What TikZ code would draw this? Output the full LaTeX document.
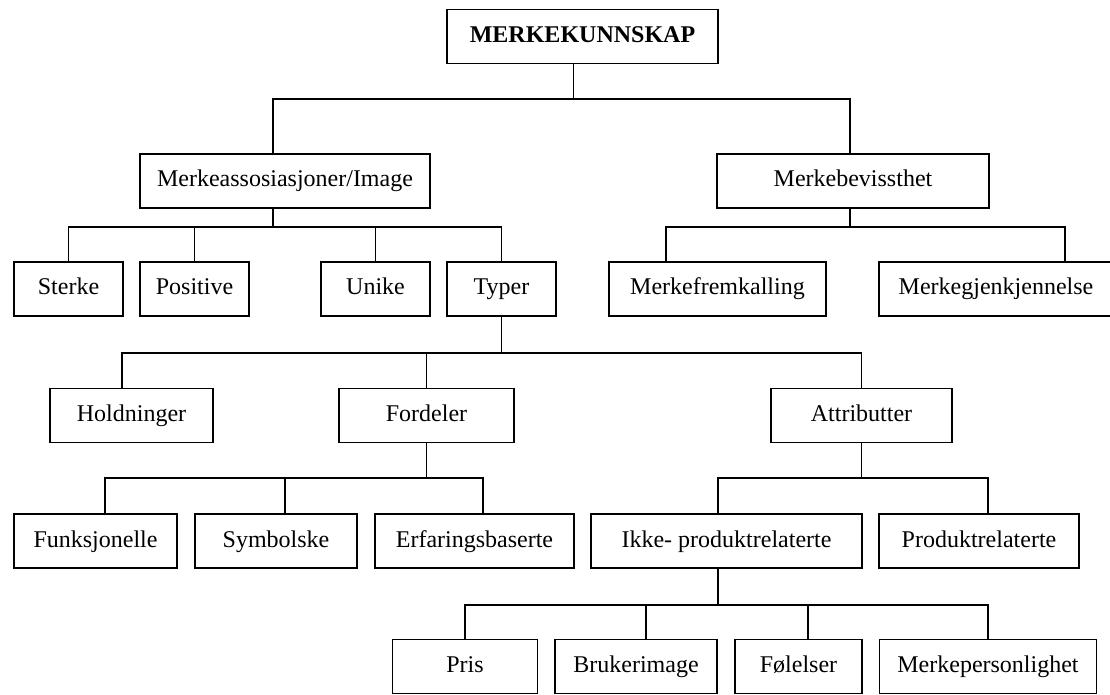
\documentclass[tikz,border=0pt]{standalone}
\usepackage{fontspec}
\setmainfont{Liberation Serif}

\tikzset{
	box/.style={draw, line width=0.9pt, minimum height=27pt, inner sep=0pt, text height=8.5pt, text depth=2.5pt, font=\fontsize{12}{14}\selectfont},
	link/.style={line width=0.9pt}
}

\begin{document}
\begin{tikzpicture}[x=0.5pt,y=-0.5pt]
		\useasboundingbox (0,0) rectangle (1110,695);

		\node[box, minimum width=135.5pt, font=\fontsize{12}{14}\selectfont\bfseries] (top) at (582.5,36.5) {MERKEKUNNSKAP};

		\node[box, minimum width=145pt] (ma) at (285,181) {Merkeassosiasjoner/Image};
		\node[box, minimum width=136pt] (mb) at (853,181) {Merkebevissthet};

		\node[box, minimum width=54.5pt] (sterke) at (68.5,289) {Sterke};
		\node[box, minimum width=54.5pt] (positive) at (194.5,289) {Positive};
		\node[box, minimum width=54.5pt] (unike) at (375.5,289) {Unike};
		\node[box, minimum width=54.5pt] (typer) at (501.5,289) {Typer};
		\node[box, minimum width=108.5pt] (mf) at (717.5,289) {Merkefremkalling};
		\node[box, minimum width=117pt] (mg) at (996,289) {Merkegjenkjennelse};

		\node[box, minimum width=81.5pt] (hold) at (131.5,415.5) {Holdninger};
		\node[box, minimum width=87.5pt] (ford) at (426.5,415.5) {Fordeler};
		\node[box, minimum width=90.5pt] (attr) at (861.5,415.5) {Attributter};

		\node[box, minimum width=81.5pt] (funk) at (95.5,541) {Funksjonelle};
		\node[box, minimum width=81pt] (symb) at (276,541) {Symbolske};
		\node[box, minimum width=99.5pt] (erf) at (474.5,541) {Erfaringsbaserte};
		\node[box, minimum width=135.5pt] (ikke) at (726.5,541) {Ikke- produktrelaterte};
		\node[box, minimum width=100pt] (prod) at (979,541) {Produktrelaterte};

		\node[box, minimum width=72.5pt] (pris) at (465,666.5) {Pris};
		\node[box, minimum width=81pt] (bruk) at (636,666.5) {Brukerimage};
		\node[box, minimum width=63.5pt] (fol) at (798.5,666.5) {Følelser};
		\node[box, minimum width=108.5pt] (mp) at (988,666.5) {Merkepersonlighet};

		% tree lines
		\draw[link] ([xshift=-4.5pt]top.south) -- ++(0,35) -| ([xshift=-6pt]ma.north);
		\draw[link] ([xshift=-4.5pt]top.south) -- ++(0,35) -| ([xshift=-1.5pt]mb.north);

		\draw[link] ([xshift=-6pt]ma.south) -- ++(0,18) -| (sterke.north);
		\draw[link] ([xshift=-6pt]ma.south) -- ++(0,18) -| (positive.north);
		\draw[link] ([xshift=-6pt]ma.south) -- ++(0,18) -| (unike.north);
		\draw[link] ([xshift=-6pt]ma.south) -- ++(0,18) -| (typer.north);

		\draw[link] ([xshift=-1.5pt]mb.south) -- ++(0,18) -| ([xshift=-25.75pt]mf.north);
		\draw[link] ([xshift=-1.5pt]mb.south) -- ++(0,18) -| ([xshift=34.5pt]mg.north);

		\draw[link] (typer.south) -- ++(0,36) -| ([xshift=-4.75pt]hold.north);
		\draw[link] (typer.south) -- ++(0,36) -| (ford.north);
		\draw[link] (typer.south) -- ++(0,36) -| (attr.north);

		\draw[link] (ford.south) -- ++(0,35) -| ([xshift=4.75pt]funk.north);
		\draw[link] (ford.south) -- ++(0,35) -| ([xshift=4.5pt]symb.north);
		\draw[link] (ford.south) -- ++(0,35) -| ([xshift=4.25pt]erf.north);

		\draw[link] (attr.south) -- ++(0,35) -| ([xshift=-4.25pt]ikke.north);
		\draw[link] (attr.south) -- ++(0,35) -| ([xshift=4.5pt]prod.north);

		\draw[link] ([xshift=-4.25pt]ikke.south) -- ++(0,36) -| (pris.north);
		\draw[link] ([xshift=-4.25pt]ikke.south) -- ++(0,36) -| ([xshift=5pt]bruk.north);
		\draw[link] ([xshift=-4.25pt]ikke.south) -- ++(0,36) -| ([xshift=4.75pt]fol.north);
		\draw[link] ([xshift=-4.25pt]ikke.south) -- ++(0,36) -| (mp.north);
	\end{tikzpicture}
\end{document}
